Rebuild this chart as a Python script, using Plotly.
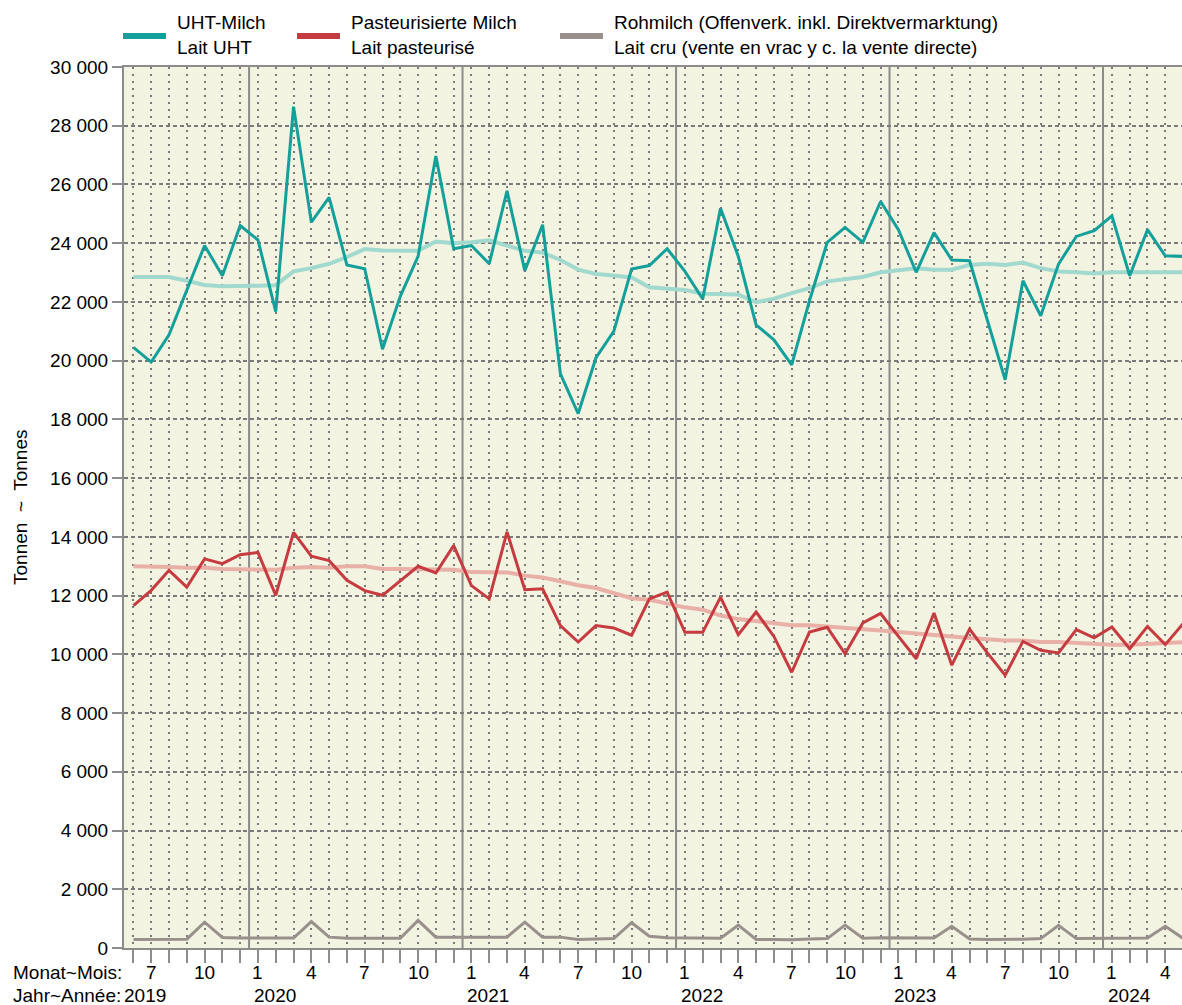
import pandas as pd
import plotly.graph_objects as go

# ---------------- data ----------------
start_month = "2019-06"
n_months = 60
periods = pd.period_range(start=start_month, periods=n_months, freq="M")
month_numbers = [p.month for p in periods]
year_numbers = [p.year for p in periods]
labelled_months = [1, 4, 7, 10]

uht = [20450, 19950, 20880, 22400, 23920, 22890, 24600, 24110, 21670, 28650,
       24720, 25560, 23260, 23130, 20390, 22190, 23550, 26970, 23810, 23920,
       23300, 25780, 23060, 24630, 19550, 18200, 20100, 21000, 23120, 23240,
       23810, 23040, 22100, 25190, 23550, 21220, 20710, 19860, 22040, 24030,
       24540, 24030, 25420, 24460, 23010, 24360, 23430, 23400, 21380, 19350,
       22720, 21530, 23290, 24230, 24430, 24930, 22890, 24460, 23570, 23550]

uht_trend = [22850, 22850, 22850, 22720, 22580, 22530, 22530, 22550, 22570, 23040,
             23150, 23300, 23530, 23800, 23750, 23740, 23740, 24060, 24000, 24030,
             24100, 23920, 23740, 23680, 23430, 23100, 22950, 22900, 22830, 22500,
             22470, 22410, 22280, 22250, 22250, 21990, 22110, 22300, 22470, 22700,
             22790, 22850, 23010, 23070, 23150, 23100, 23100, 23260, 23300, 23260,
             23340, 23150, 23040, 23010, 22970, 23010, 23010, 23010, 23010, 23010]

past = [11660, 12180, 12860, 12290, 13250, 13090, 13390, 13470, 12010, 14150,
        13340, 13190, 12520, 12170, 12010, 12490, 13000, 12770, 13700, 12340,
        11890, 14170, 12200, 12230, 10980, 10420, 10980, 10900, 10650, 11890,
        12120, 10750, 10750, 11950, 10670, 11440, 10610, 9390, 10760, 10920,
        10020, 11070, 11390, 10610, 9850, 11410, 9630, 10860, 10050, 9290,
        10440, 10140, 10050, 10840, 10560, 10930, 10190, 10950, 10330, 11040]

past_trend = [13000, 13000, 12970, 12950, 12950, 12910, 12910, 12910, 12880, 12950,
              12970, 12950, 13000, 13000, 12910, 12910, 12910, 12880, 12880, 12800,
              12800, 12790, 12680, 12620, 12490, 12350, 12260, 12090, 11910, 11860,
              11720, 11600, 11520, 11320, 11200, 11120, 11070, 10990, 10990, 10950,
              10920, 10870, 10810, 10760, 10700, 10670, 10610, 10560, 10500, 10470,
              10470, 10420, 10420, 10390, 10330, 10330, 10330, 10370, 10390, 10410]

raw = [290, 290, 290, 300, 880, 360, 340, 340, 340, 340,
       900, 370, 330, 330, 330, 330, 940, 370, 370, 370,
       370, 370, 880, 370, 370, 290, 310, 320, 860, 400,
       350, 350, 330, 330, 780, 290, 290, 280, 310, 320,
       780, 330, 350, 340, 340, 340, 740, 310, 290, 290,
       300, 320, 770, 320, 320, 340, 340, 340, 740, 330]

legend_labels = ["UHT-Milch<br>Lait UHT",
                 "Pasteurisierte Milch<br>Lait pasteurisé",
                 "Rohmilch (Offenverk. inkl. Direktvermarktung)<br>Lait cru (vente en vrac y c. la vente directe)"]
y_title = "Tonnen  ~  Tonnes"
month_row_label = "Monat~Mois:"
year_row_label = "Jahr~Année:"
y_ticks = list(range(0, 30001, 2000))

# ---------------- styling ----------------
W, H = 1182, 1005
L, R, T, B = 124, 0, 67, 57
PW, PH = W - L - R, H - T - B

def px_x(px):
    return (px - L) / PW

def px_y(py):
    return (H - B - py) / PH

C_UHT = "#13a09a"
C_UHT_T = "#a2d9cf"
C_PAST = "#c63b3f"
C_PAST_T = "#e8b0a7"
C_RAW = "#9a908b"
BG = "#f3f3e2"
GRID = "#7a7a7a"
FONT = "Liberation Sans, Arial, sans-serif"
TXT = dict(size=19, color="black", family=FONT)

x = list(range(n_months))

fig = go.Figure()
fig.add_trace(go.Scatter(x=x, y=uht_trend, mode="lines", line=dict(color=C_UHT_T, width=4), hoverinfo="skip"))
fig.add_trace(go.Scatter(x=x, y=past_trend, mode="lines", line=dict(color=C_PAST_T, width=4), hoverinfo="skip"))
fig.add_trace(go.Scatter(x=x, y=uht, mode="lines", line=dict(color=C_UHT, width=3)))
fig.add_trace(go.Scatter(x=x, y=past, mode="lines", line=dict(color=C_PAST, width=3)))
fig.add_trace(go.Scatter(x=x, y=raw, mode="lines", line=dict(color=C_RAW, width=3)))

shapes = []
# year boundary lines
for i in range(1, n_months):
    if month_numbers[i] == 1:
        shapes.append(dict(type="line", xref="x", yref="paper", x0=i - 0.5, x1=i - 0.5, y0=0, y1=1,
                           line=dict(color="#8c8c8c", width=2), layer="below"))

annotations = []
# month labels and year labels
for i in range(n_months):
    m = month_numbers[i]
    if m in labelled_months and x[i] <= 58.9:
        annotations.append(dict(x=x[i], y=px_y(972), xref="x", yref="paper", text=str(m),
                                showarrow=False, xanchor="center", yanchor="middle", font=TXT))
    if i == 0:
        annotations.append(dict(x=x[i], y=px_y(995), xref="x", yref="paper", text=str(year_numbers[i]),
                                showarrow=False, xanchor="left", yanchor="middle", xshift=-11, font=TXT))
    elif m == 1:
        annotations.append(dict(x=x[i], y=px_y(995), xref="x", yref="paper", text=str(year_numbers[i]),
                                showarrow=False, xanchor="left", yanchor="middle", xshift=-6, font=TXT))

annotations.append(dict(x=px_x(11), y=px_y(972), xref="paper", yref="paper", text=month_row_label,
                        showarrow=False, xanchor="left", yanchor="middle", font=TXT))
annotations.append(dict(x=px_x(11), y=px_y(995), xref="paper", yref="paper", text=year_row_label,
                        showarrow=False, xanchor="left", yanchor="middle", font=TXT))
annotations.append(dict(x=px_x(20), y=px_y(508), xref="paper", yref="paper", text=y_title, textangle=-90,
                        showarrow=False, xanchor="center", yanchor="middle", font=TXT))

# manual legend
leg_colors = [C_UHT, C_PAST, C_RAW]
leg_x = [123, 297, 560]
for lx, col, lab in zip(leg_x, leg_colors, legend_labels):
    shapes.append(dict(type="line", xref="paper", yref="paper", x0=px_x(lx), x1=px_x(lx + 43),
                       y0=px_y(36), y1=px_y(36), line=dict(color=col, width=6)))
    annotations.append(dict(x=px_x(lx + 52), y=px_y(35), xref="paper", yref="paper", text=lab,
                            showarrow=False, xanchor="left", yanchor="middle", align="left", font=TXT))

fig.update_layout(
    width=W, height=H,
    margin=dict(l=L, r=R, t=T, b=B, pad=0),
    paper_bgcolor="white", plot_bgcolor=BG,
    showlegend=False,
    separators=", ",
    font=dict(family=FONT, size=19, color="black"),
    shapes=shapes, annotations=annotations,
)
fig.update_xaxes(
    range=[-0.53, 58.94],
    tickvals=x, showticklabels=False,
    ticks="outside", ticklen=13, tickwidth=1.5, tickcolor="#8c8c8c",
    showline=True, linecolor="#8c8c8c", linewidth=1.5, mirror=True,
    showgrid=True, gridcolor=GRID, gridwidth=2, griddash="2px,5px",
    zeroline=False,
)
fig.update_yaxes(
    range=[0, 30000],
    tickvals=y_ticks, tickformat=",d",
    ticks="outside", ticklen=10, tickwidth=1.5, tickcolor="#8c8c8c",
    showline=True, linecolor="#8c8c8c", linewidth=2,
    showgrid=True, gridcolor=GRID, gridwidth=1.5, griddash="4px,3px",
    zeroline=False, tickfont=dict(size=19),
)

fig.write_html("out.html", config={"displayModeBar": False},
               post_script="document.body.style.margin='0';document.body.style.padding='0';")
